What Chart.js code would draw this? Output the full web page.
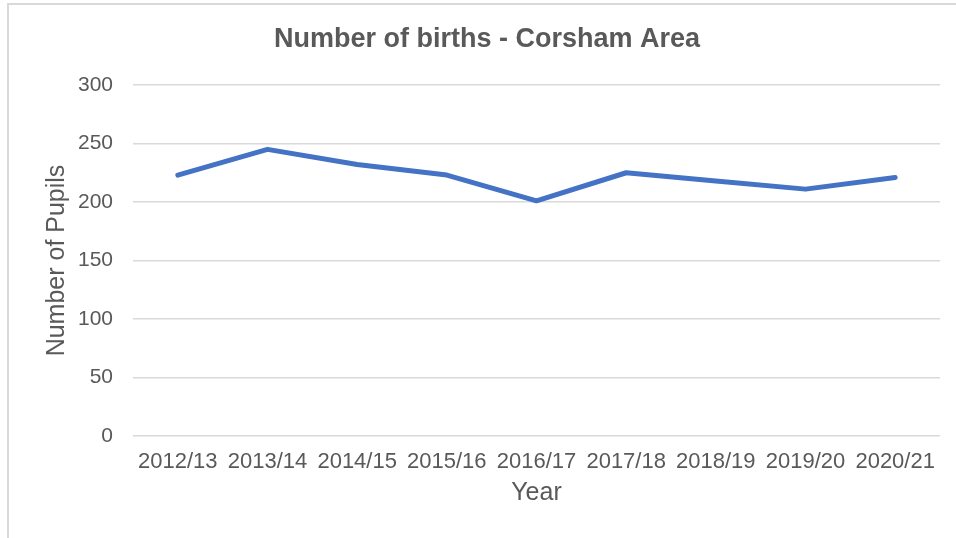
<!DOCTYPE html>
<html>
    <head>
        <title>Number of births - Corsham Area</title>
        <meta name="viewport" content="width=device-width, initial-scale=1.0">
        <script src="https://cdn.jsdelivr.net/npm/chart.js@4/dist/chart.umd.min.js"></script>
        <style>
            html, body { margin: 0; padding: 0; background: #fff; }
            #wrap { position: relative; width: 956px; height: 538px; overflow: hidden; }
            #frame { position: absolute; left: 7px; top: 3px; width: 960px; height: 540px;
                     border-left: 2px solid #d9d9d9; border-top: 2px solid #d9d9d9; }
            canvas { position: absolute; left: 0; top: 0; }
        </style>
    </head>
    <body>
        <div id="wrap">
            <div id="frame"></div>
            <canvas id="myChart" width="956" height="538"></canvas>
        </div>

        <script>
            // values
            const years = ['2012/13', '2013/14', '2014/15', '2015/16', '2016/17', '2017/18', '2018/19', '2019/20', '2020/21'];
            const births = [223, 245, 232, 223, 201, 225, 218, 211, 221];
            const yTicks = [0, 50, 100, 150, 200, 250, 300];

            const grey = '#595959';
            const font = 'Liberation Sans, Arial, sans-serif';

            let ctx = document.getElementById('myChart').getContext('2d');
            let chart = new Chart(ctx, {
                type: 'line',
                data: {
                    labels: years,
                    datasets: [{
                        label: 'Births',
                        data: births,
                        borderColor: '#4472C4',
                        borderWidth: 5,
                        pointRadius: 0,
                        fill: false,
                        tension: 0,
                        borderCapStyle: 'round',
                        borderJoinStyle: 'round'
                    }]
                },
                options: {
                    responsive: false,
                    animation: false,
                    // left padding pushes the title centre over to where the reference has it
                    layout: { padding: { left: 34, right: 16, top: 0, bottom: 0 } },
                    plugins: {
                        legend: { display: false },
                        tooltip: { enabled: false },
                        title: {
                            display: true,
                            text: 'Number of births - Corsham Area',
                            color: grey,
                            font: { family: font, size: 27, weight: 'bold' },
                            padding: { top: 23, bottom: 29.6 }
                        }
                    },
                    scales: {
                        x: {
                            offset: true,
                            grid: { display: false, drawTicks: false },
                            border: { display: false },
                            ticks: { color: grey, font: { family: font, size: 22 }, padding: 13, maxRotation: 0, autoSkip: false },
                            title: {
                                display: true, text: 'Year', color: grey,
                                font: { family: font, size: 25 },
                                padding: { top: 0, bottom: 30 }
                            },
                            afterFit: (scale) => { scale.height = 102; }
                        },
                        y: {
                            min: 0,
                            max: 300,
                            afterBuildTicks: (scale) => { scale.ticks = yTicks.map(v => ({ value: v })); },
                            grid: { color: '#d9d9d9', lineWidth: 1.5, drawTicks: false },
                            border: { display: false },
                            ticks: { color: grey, font: { family: font, size: 21 }, padding: 20 },
                            title: {
                                display: true, text: 'Number of Pupils', color: grey,
                                font: { family: font, size: 25 },
                                padding: { top: 8, bottom: 0 }
                            },
                            afterFit: (scale) => { scale.width = 99; }
                        }
                    }
                }
            });
        </script>
    </body>
</html>
